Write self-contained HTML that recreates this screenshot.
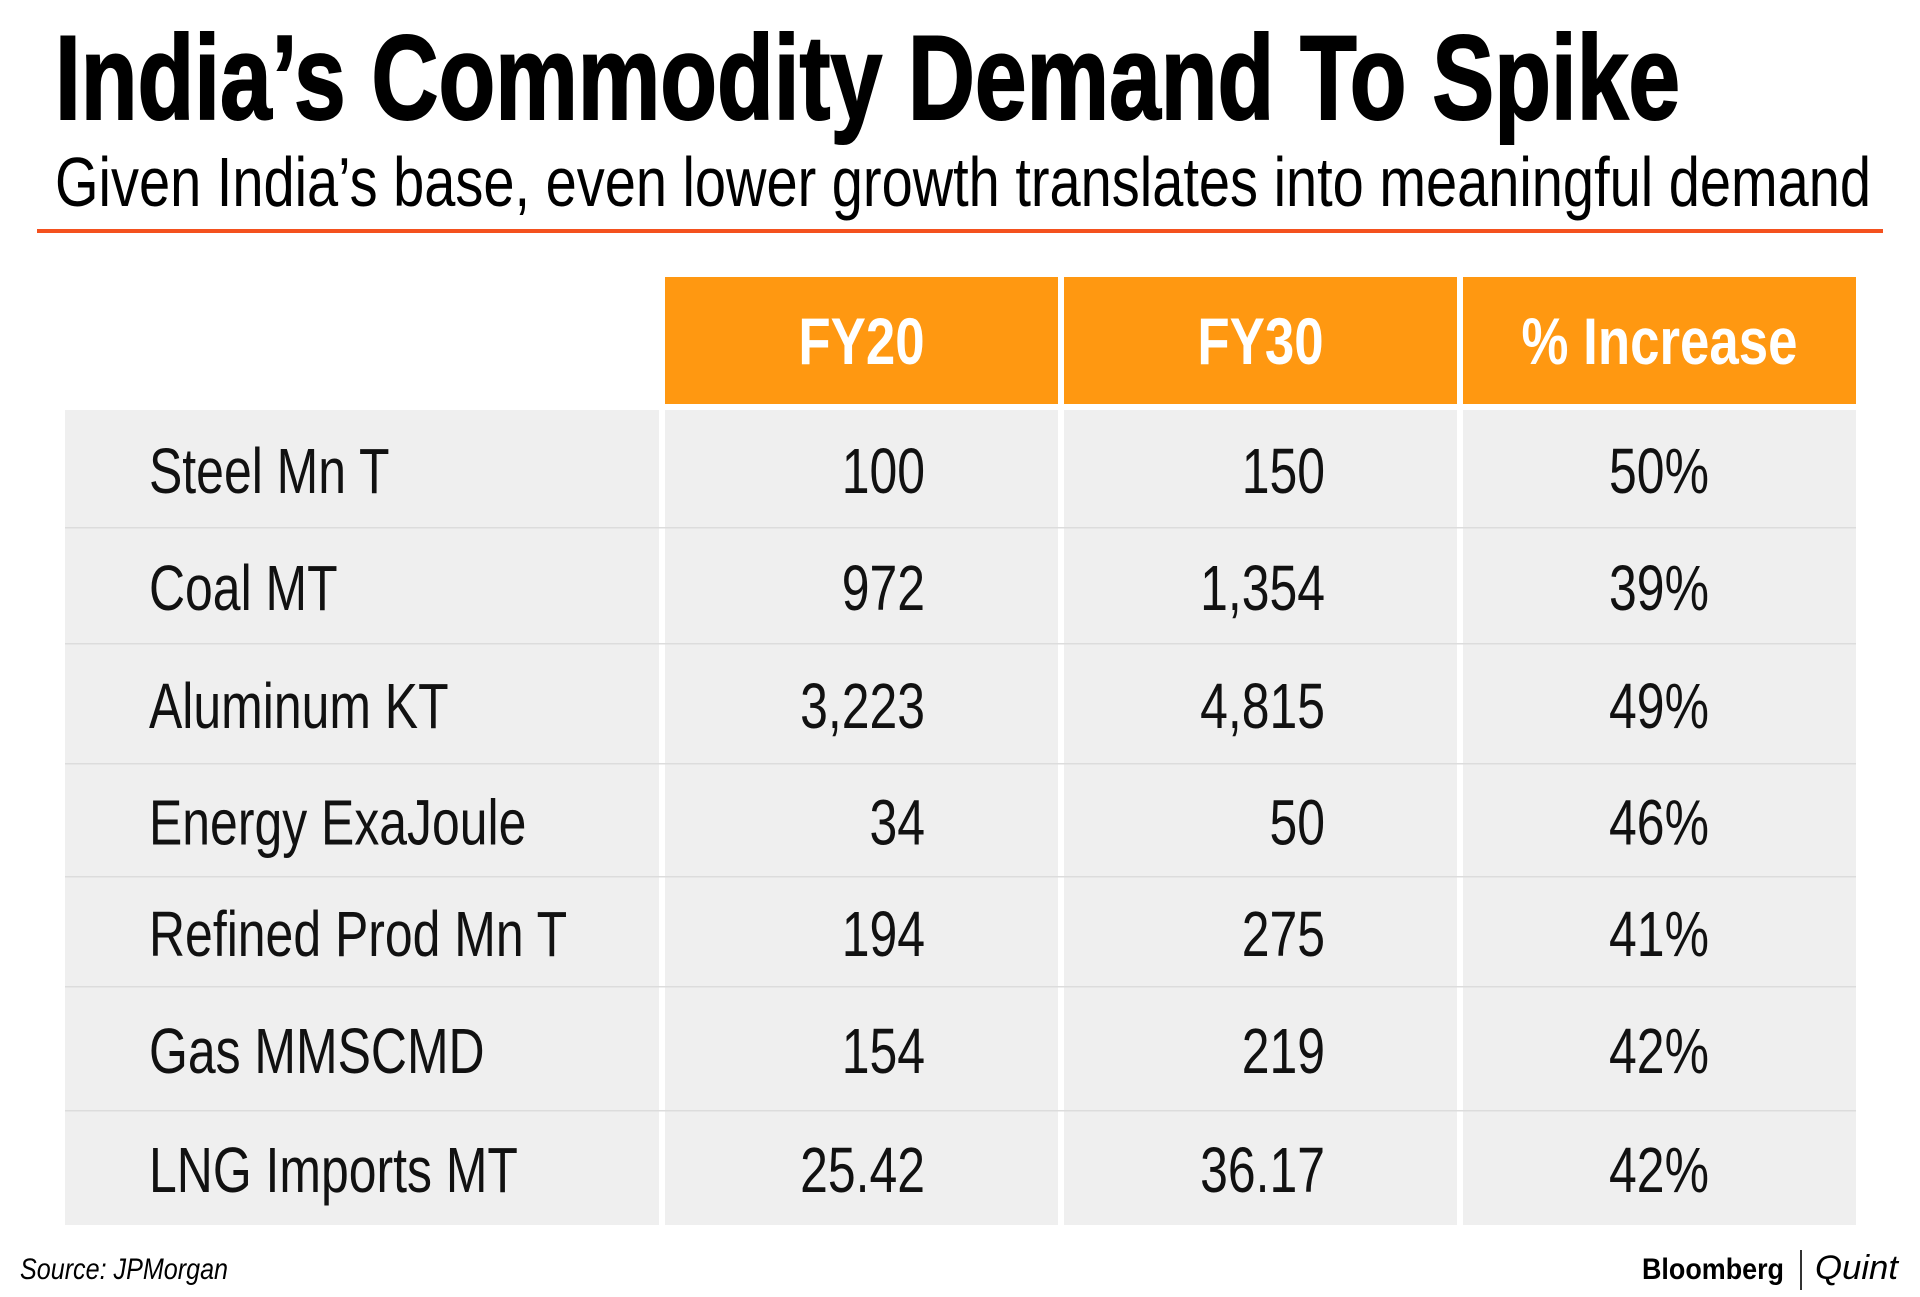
<!DOCTYPE html>
<html><head><meta charset="utf-8"><style>
html,body{margin:0;padding:0;background:#fff;width:1920px;height:1297px;overflow:hidden}
svg{display:block}
text{font-family:"Liberation Sans",sans-serif}
</style></head><body>
<svg id="chart" width="1920" height="1297" viewBox="0 0 1920 1297">
<text x="55" y="119" font-size="120" font-weight="bold" stroke="#000" stroke-width="2" textLength="1625" lengthAdjust="spacingAndGlyphs">India’s Commodity Demand To Spike</text>
<text x="55" y="206" font-size="70" textLength="1816" lengthAdjust="spacingAndGlyphs">Given India’s base, even lower growth translates into meaningful demand</text>
<rect x="37" y="229" width="1846" height="4" fill="#f4511e"/>
<g id="tbl"></g>
<text x="20" y="1279" font-size="30" font-style="italic" textLength="208" lengthAdjust="spacingAndGlyphs">Source: JPMorgan</text>
<text x="1642" y="1279" font-size="30" font-weight="bold" textLength="142" lengthAdjust="spacingAndGlyphs">Bloomberg</text>
<rect x="1800" y="1250" width="2" height="40" fill="#333"/>
<text x="1815" y="1279" font-size="34" font-style="italic" font-family="Liberation Serif" textLength="83" lengthAdjust="spacingAndGlyphs">Quint</text>
</svg>
<script>
const headers = ["FY20","FY30","% Increase"];
const labels = ["Steel Mn T","Coal MT","Aluminum KT","Energy ExaJoule","Refined Prod Mn T","Gas MMSCMD","LNG Imports MT"];
const fy20 = ["100","972","3,223","34","194","154","25.42"];
const fy30 = ["150","1,354","4,815","50","275","219","36.17"];
const pct = ["50%","39%","49%","46%","41%","42%","42%"];
const NS="http://www.w3.org/2000/svg";
const g=document.getElementById('tbl');
function mk(tag,a){const e=document.createElementNS(NS,tag);for(const k in a)e.setAttribute(k,a[k]);g.appendChild(e);return e;}
function squeeze(t,k){const w=t.getComputedTextLength();t.setAttribute('textLength',(w*k).toFixed(1));t.setAttribute('lengthAdjust','spacingAndGlyphs');}
const colX=[[665,1058],[1064,1457],[1463,1856]];
const rowB=[410,528,644,764,877,987,1111,1225];
headers.forEach((h,i)=>{
  const r=mk('rect',{x:colX[i][0],y:277,width:colX[i][1]-colX[i][0],height:127,fill:'#ff9811'});
  
  
  const t=mk('text',{x:(colX[i][0]+colX[i][1])/2,y:364,'font-size':66,'font-weight':'bold',fill:'#fff','text-anchor':'middle'});
  t.textContent=h;
  
  
  squeeze(t,0.8);
});
const cols=[[65,659],[665,1058],[1064,1457],[1463,1856]];
cols.forEach(c=>{
  const r=mk('rect',{x:c[0],y:rowB[0],width:c[1]-c[0],height:rowB[rowB.length-1]-rowB[0],fill:'#efefef'});
  
  
});
const K=0.78;
labels.forEach((lab,i)=>{
  const y0=rowB[i],y1=rowB[i+1];
  if(i>0){const l=mk('rect',{x:65,y:y0-1,width:1791,height:1.5,fill:'#dcdcdc'});
    
    }
  const by=(y0+y1)/2+24;
  const t1=mk('text',{x:149,y:by,'font-size':64,fill:'#111'});
  t1.textContent=lab;
  
  
  squeeze(t1,K);
  const t2=mk('text',{x:925,y:by,'font-size':64,fill:'#111','text-anchor':'end'});
  t2.textContent=fy20[i];
  
  
  squeeze(t2,K);
  const t3=mk('text',{x:1325,y:by,'font-size':64,fill:'#111','text-anchor':'end'});
  t3.textContent=fy30[i];
  
  
  squeeze(t3,K);
  const t4=mk('text',{x:1659,y:by,'font-size':64,fill:'#111','text-anchor':'middle'});
  t4.textContent=pct[i];
  
  
  squeeze(t4,K);
});
</script>
</body></html>
